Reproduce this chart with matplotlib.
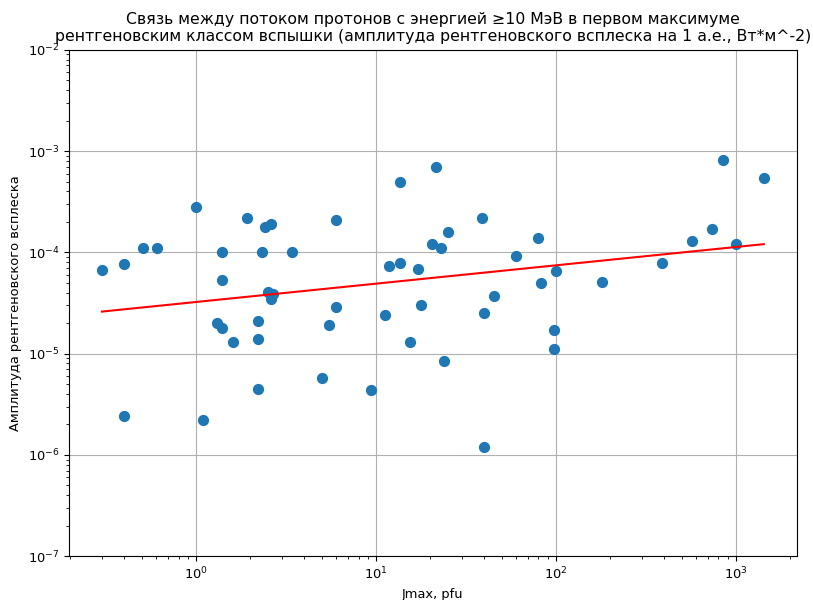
import matplotlib
matplotlib.use("Agg")
import matplotlib.pyplot as plt
import numpy as np

# Jmax (pfu) vs X-ray burst amplitude (W/m^2 at 1 AU)
jmax = [0.30, 0.40, 0.40, 0.51, 0.61, 1.0, 1.09, 1.31, 1.39, 1.39,
        1.39, 1.6, 1.92, 2.2, 2.2, 2.2, 2.33, 2.42, 2.6, 2.5,
        2.6, 2.67, 3.4, 5.0, 5.5, 6.0, 6.0, 9.4, 11.2, 11.8,
        13.6, 13.6, 15.4, 17.1, 17.8, 20.4, 21.5, 22.9, 23.9, 25.1,
        38.8, 39.8, 40.0, 45.0, 60.0, 80.0, 83.0, 97.0, 97.0, 100.0,
        180.0, 388.0, 570.0, 735.0, 847.0, 1000.0, 1430.0]
ampl = [6.7e-5, 7.7e-5, 2.4e-6, 1.1e-4, 1.1e-4, 2.8e-4, 2.2e-6, 2.0e-5, 1.8e-5, 1.0e-4,
        5.3e-5, 1.3e-5, 2.2e-4, 4.5e-6, 2.1e-5, 1.4e-5, 1.0e-4, 1.8e-4, 1.9e-4, 4.1e-5,
        3.5e-5, 3.9e-5, 1.0e-4, 5.7e-6, 1.9e-5, 2.9e-5, 2.1e-4, 4.4e-6, 2.4e-5, 7.4e-5,
        5.0e-4, 7.9e-5, 1.3e-5, 6.9e-5, 3.0e-5, 1.2e-4, 7.0e-4, 1.1e-4, 8.5e-6, 1.6e-4,
        2.2e-4, 2.5e-5, 1.2e-6, 3.7e-5, 9.2e-5, 1.4e-4, 5.0e-5, 1.7e-5, 1.1e-5, 6.5e-5,
        5.1e-5, 7.9e-5, 1.3e-4, 1.7e-4, 8.2e-4, 1.2e-4, 5.4e-4]

# power-law fit: log10(y) = a + b*log10(x)
fit_a = -4.49
fit_b = 0.181

fig = plt.figure(figsize=(8.13, 6), dpi=100)
ax = fig.add_axes([0.085, 0.073, 0.895, 0.844])

ax.scatter(jmax, ampl, s=50, color='#1f77b4', zorder=3)

xf = np.array([min(jmax), max(jmax)])
ax.plot(xf, 10 ** (fit_a + fit_b * np.log10(xf)), color='red', zorder=4)

ax.set_xscale('log')
ax.set_yscale('log')
ax.set_ylim(1e-7, 1e-2)
ax.set_xlim(0.197, 2180)
ax.grid(True, color='#b0b0b0')
ax.set_axisbelow(True)
ax.tick_params(labelsize=9.4)

ax.set_xlabel('Jmax, pfu', fontsize=9.4)
ax.set_ylabel('Амплитуда рентгеновского всплеска', fontsize=9.4)
ax.set_title('Связь между потоком протонов с энергией ≥10 МэВ в первом максимуме\n'
             'рентгеновским классом вспышки (амплитуда рентгеновского всплеска на 1 а.е., Вт*м^-2)',
             fontsize=11.3)

fig.savefig('out.png', dpi=100)
